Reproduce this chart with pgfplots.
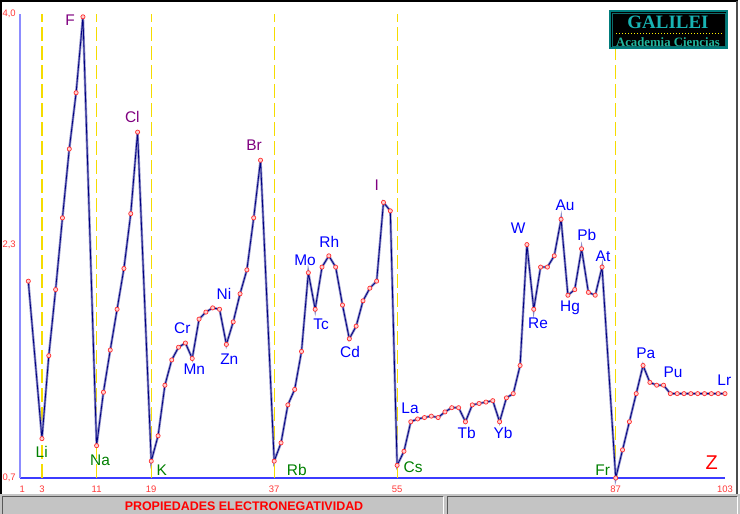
\documentclass[border=0pt]{standalone}
\usepackage{pgfplots}
\pgfplotsset{compat=1.18}
\usepackage{pgfplotstable}
\usepackage{fontspec}
\setmainfont{Liberation Sans}
\newfontfamily\logofont{Liberation Serif}

\definecolor{navyline}{HTML}{000080}
\definecolor{haloline}{HTML}{8C8CC8}
\definecolor{markred}{HTML}{FF3030}
\definecolor{markpink}{HTML}{FFD0D0}
\definecolor{dashyellow}{HTML}{F5DC00}
\definecolor{tickred}{HTML}{FF3838}
\definecolor{xaxisblue}{HTML}{3C3CFF}
\definecolor{yaxisblue}{HTML}{8C8CFF}
\definecolor{halogen}{HTML}{800080}
\definecolor{alkali}{HTML}{008000}
\definecolor{transblue}{HTML}{0000FF}
\definecolor{statusgrey}{HTML}{C4C4C4}
\definecolor{logocyan}{HTML}{18B4B4}
\definecolor{logogreen}{HTML}{20B49C}
\definecolor{logoborder}{HTML}{007C7C}

\pgfplotstableread{
Z en
1 2.10
3 0.98
4 1.57
5 2.04
6 2.55
7 3.04
8 3.44
9 3.98
11 0.93
12 1.31
13 1.61
14 1.90
15 2.19
16 2.58
17 3.16
19 0.82
20 1.00
21 1.36
22 1.54
23 1.63
24 1.66
25 1.55
26 1.83
27 1.88
28 1.91
29 1.90
30 1.65
31 1.81
32 2.01
33 2.18
34 2.55
35 2.96
37 0.82
38 0.95
39 1.22
40 1.33
41 1.60
42 2.16
43 1.90
44 2.20
45 2.28
46 2.20
47 1.93
48 1.69
49 1.78
50 1.96
51 2.05
52 2.10
53 2.66
54 2.60
55 0.79
56 0.89
57 1.10
58 1.12
59 1.13
60 1.14
61 1.13
62 1.17
63 1.20
64 1.20
65 1.10
66 1.22
67 1.23
68 1.24
69 1.25
70 1.10
71 1.27
72 1.30
73 1.50
74 2.36
75 1.90
76 2.20
77 2.20
78 2.28
79 2.54
80 2.00
81 2.04
82 2.33
83 2.02
84 2.00
85 2.20
87 0.70
88 0.90
89 1.10
90 1.30
91 1.50
92 1.38
93 1.36
94 1.36
95 1.30
96 1.30
97 1.30
98 1.30
99 1.30
100 1.30
101 1.30
102 1.30
103 1.30
}\endata

\newcommand{\lab}{\fontsize{15.5}{17}\selectfont}

\begin{document}
\begin{tikzpicture}
\path[use as bounding box] (0bp,0bp) rectangle (740bp,514bp);
\begin{scope}[x=1bp,y=1bp]
\fill[white] (0,0) rectangle (740,514);
% status bar
\fill[statusgrey] (0,0) rectangle (740,20);
\draw[gray!70!black, line width=1bp] (2,0) -- (2,17) -- (443,17);
\draw[white, line width=1bp] (443,17) -- (443,0);
\draw[gray!70!black, line width=1bp] (447,0) -- (447,17) -- (737,17);
\draw[white, line width=1bp] (737,17) -- (737,0);
\node[text=red, font=\bfseries\fontsize{12.5}{13}\selectfont, inner sep=0] at (244,7.5) {PROPIEDADES ELECTRONEGATIVIDAD};
% frame
\draw[black, line width=2bp] (1,20) -- (1,513) -- (738,513);
\draw[black!70, line width=1.5bp] (737,20) -- (737,513);
\end{scope}

\begin{axis}[
  at={(20bp,36bp)}, anchor=south west,
  width=705bp, height=464bp, scale only axis,
  xmin=-0.215, xmax=103, ymin=0.7, ymax=4.0,
  clip=false,
  axis x line=bottom, axis y line=left,
  x axis line style={draw=xaxisblue, line width=2bp, -},
  y axis line style={draw=yaxisblue, line width=2bp, -},
  tick style={draw=none},
  xtick={0.1,3,11,19,37,55,87,103},
  xticklabels={1,3,11,19,37,55,87,103},
  ytick={0.7,2.36,4.0},
  yticklabels={{0,7},{2,3},{4,0}},
  xticklabel style={font=\fontsize{9.5}{10}\selectfont, text=tickred, anchor=north, inner sep=0pt, yshift=-6bp},
  yticklabel style={font=\fontsize{9.5}{10}\selectfont, text=tickred, anchor=east, inner sep=0pt, xshift=-2bp},
]
% dashed guide lines
\addplot[dashyellow, line width=1.2bp, dash pattern=on 14bp off 5bp] coordinates {(3,0.7) (3,4.0)};
\addplot[dashyellow, line width=1.2bp, dash pattern=on 14bp off 5bp] coordinates {(11,0.7) (11,4.0)};
\addplot[dashyellow, line width=1.2bp, dash pattern=on 14bp off 5bp] coordinates {(19,0.7) (19,4.0)};
\addplot[dashyellow, line width=1.2bp, dash pattern=on 14bp off 5bp] coordinates {(37,0.7) (37,4.0)};
\addplot[dashyellow, line width=1.2bp, dash pattern=on 14bp off 5bp] coordinates {(55,0.7) (55,4.0)};
\addplot[dashyellow, line width=1.2bp, dash pattern=on 14bp off 5bp] coordinates {(87,0.7) (87,4.0)};
% data line
\addplot[haloline, line width=2.4bp, no markers] table[x=Z, y=en] {\endata};
\addplot[navyline, line width=0.8bp, mark=*, mark size=2.1bp,
  mark options={draw=markred, fill=markpink, line width=0.7bp, solid}] table[x=Z, y=en] {\endata};
% halogens
\node[font=\lab, text=halogen] at (axis cs:7.11,3.957) {F};
\node[font=\lab, text=halogen] at (axis cs:16.23,3.27) {Cl};
\node[font=\lab, text=halogen] at (axis cs:34.05,3.068) {Br};
\node[font=\lab, text=halogen] at (axis cs:52.01,2.784) {I};
% alkali
\node[font=\lab, text=alkali] at (axis cs:2.96,0.887) {Li};
\node[font=\lab, text=alkali] at (axis cs:11.5,0.823) {Na};
\node[font=\lab, text=alkali] at (axis cs:20.53,0.757) {K};
\node[font=\lab, text=alkali] at (axis cs:40.3,0.757) {Rb};
\node[font=\lab, text=alkali] at (axis cs:57.33,0.778) {Cs};
\node[font=\lab, text=alkali] at (axis cs:85.1,0.757) {Fr};
% others
\node[font=\lab, text=transblue] at (axis cs:23.55,1.769) {Cr};
\node[font=\lab, text=transblue] at (axis cs:25.3,1.477) {Mn};
\node[font=\lab, text=transblue] at (axis cs:29.65,2.009) {Ni};
\node[font=\lab, text=transblue] at (axis cs:30.43,1.546) {Zn};
\node[font=\lab, text=transblue] at (axis cs:41.51,2.25) {Mo};
\node[font=\lab, text=transblue] at (axis cs:43.86,1.795) {Tc};
\node[font=\lab, text=transblue] at (axis cs:45.07,2.378) {Rh};
\node[font=\lab, text=transblue] at (axis cs:48.1,1.598) {Cd};
\node[font=\lab, text=transblue] at (axis cs:56.89,1.198) {La};
\node[font=\lab, text=transblue] at (axis cs:65.19,1.022) {Tb};
\node[font=\lab, text=transblue] at (axis cs:70.5,1.02) {Yb};
\node[font=\lab, text=transblue] at (axis cs:72.7,2.478) {W};
\node[font=\lab, text=transblue] at (axis cs:75.63,1.802) {Re};
\node[font=\lab, text=transblue] at (axis cs:79.58,2.642) {Au};
\node[font=\lab, text=transblue] at (axis cs:80.31,1.911) {Hg};
\node[font=\lab, text=transblue] at (axis cs:82.76,2.428) {Pb};
\node[font=\lab, text=transblue] at (axis cs:85.14,2.279) {At};
\node[font=\lab, text=transblue] at (axis cs:91.4,1.589) {Pa};
\node[font=\lab, text=transblue] at (axis cs:95.39,1.449) {Pu};
\node[font=\lab, text=transblue] at (axis cs:102.9,1.397) {Lr};
\node[font=\fontsize{20}{22}\selectfont, text=red] at (axis cs:101.06,0.807) {Z};
\end{axis}

% logo
\begin{scope}[x=1bp,y=1bp]
\fill[black] (609,465) rectangle (728,504);
\draw[logoborder, line width=2bp] (610,466) rectangle (727,503);
\draw[logocyan!60!black, line width=0.6bp] (612,468) rectangle (725,501);
\node[text=logocyan, font=\logofont\bfseries\fontsize{19}{20}\selectfont, inner sep=0] at (668,492) {GALILEI};
\draw[yellow, line width=1.2bp, dash pattern=on 1.2bp off 1.8bp] (616,480.7) -- (723,480.7);
\node[text=logogreen, font=\logofont\bfseries\fontsize{12.8}{13}\selectfont, inner sep=0] at (668,472.3) {Academia Ciencias};
\end{scope}
\end{tikzpicture}
\end{document}
